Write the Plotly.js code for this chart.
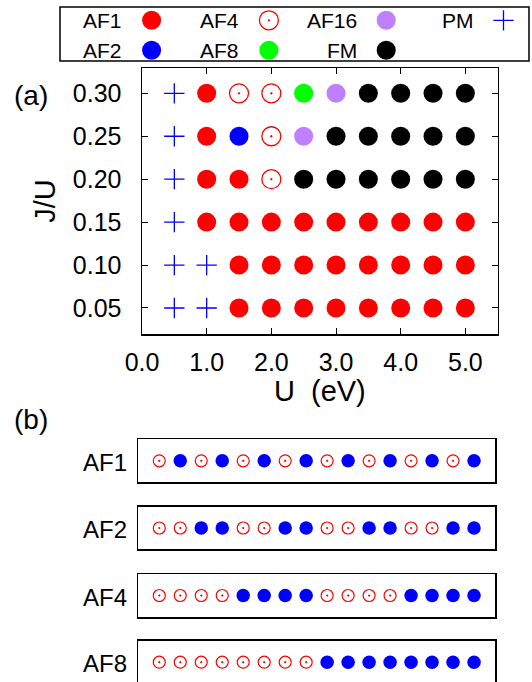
<!DOCTYPE html>
<html>
<head>
<meta charset="utf-8">
<script src="https://cdn.plot.ly/plotly-3.0.1.min.js"></script>
<style>
  html, body { margin: 0; padding: 0; background: #fff; }
  #chart { width: 532px; height: 682px; }
</style>
</head>
<body>
<div id="chart"></div>
<script>
// ---- Phase diagram (a): grid of U and J/U, with the magnetic phase at each point ----
const uValues = [0.5, 1.0, 1.5, 2.0, 2.5, 3.0, 3.5, 4.0, 4.5, 5.0];
const juValues = [0.30, 0.25, 0.20, 0.15, 0.10, 0.05];
const phaseRows = [
  ['PM', 'AF1', 'AF4', 'AF4', 'AF8', 'AF16', 'FM', 'FM', 'FM', 'FM'],
  ['PM', 'AF1', 'AF2', 'AF4', 'AF16', 'FM', 'FM', 'FM', 'FM', 'FM'],
  ['PM', 'AF1', 'AF1', 'AF4', 'FM', 'FM', 'FM', 'FM', 'FM', 'FM'],
  ['PM', 'AF1', 'AF1', 'AF1', 'AF1', 'AF1', 'AF1', 'AF1', 'AF1', 'AF1'],
  ['PM', 'PM', 'AF1', 'AF1', 'AF1', 'AF1', 'AF1', 'AF1', 'AF1', 'AF1'],
  ['PM', 'PM', 'AF1', 'AF1', 'AF1', 'AF1', 'AF1', 'AF1', 'AF1', 'AF1']
];
const xTickValues = [0, 1, 2, 3, 4, 5];
const yTickValues = [0.05, 0.10, 0.15, 0.20, 0.25, 0.30];

// Legend order (column by column, two rows each)
const legendPhases = ['AF1', 'AF2', 'AF4', 'AF8', 'AF16', 'FM', 'PM'];

// ---- Spin chains (b): 16 sites, 0 = up (open red), 1 = down (filled blue) ----
const chainLabels = ['AF1', 'AF2', 'AF4', 'AF8'];
const siteIndex = [1, 2, 3, 4, 5, 6, 7, 8, 9, 10, 11, 12, 13, 14, 15, 16];
const spinsAF1 = [0, 1, 0, 1, 0, 1, 0, 1, 0, 1, 0, 1, 0, 1, 0, 1];
const spinsAF2 = [0, 0, 1, 1, 0, 0, 1, 1, 0, 0, 1, 1, 0, 0, 1, 1];
const spinsAF4 = [0, 0, 0, 0, 1, 1, 1, 1, 0, 0, 0, 0, 1, 1, 1, 1];
const spinsAF8 = [0, 0, 0, 0, 0, 0, 0, 0, 1, 1, 1, 1, 1, 1, 1, 1];
const chainSpins = [spinsAF1, spinsAF2, spinsAF4, spinsAF8];

// ---- styles ----
const FONT = 'Liberation Sans, Arial, Helvetica, sans-serif';
const RED = '#ff0000', BLUE = '#0000ff';
const phaseStyle = {
  AF1:  { symbol: 'circle', size: 19, color: RED },
  AF2:  { symbol: 'circle', size: 19, color: BLUE },
  AF4:  { symbol: 'circle-open-dot', size: 19, color: RED, line: { color: RED, width: 1.3 } },
  AF8:  { symbol: 'circle', size: 19, color: '#00ff00' },
  AF16: { symbol: 'circle', size: 19, color: '#bf80ff' },
  FM:   { symbol: 'circle', size: 19, color: '#000000' },
  PM:   { symbol: 'cross-thin-open', size: 14.5, color: BLUE, line: { color: BLUE, width: 1.3 } }
};

const W = 532, H = 682;
const px = v => v / W;          // horizontal pixel -> paper
const py = v => 1 - v / H;      // vertical pixel -> paper

const traces = [];

// Phase-diagram markers, one trace per phase
legendPhases.forEach(ph => {
  const xs = [], ys = [];
  phaseRows.forEach((row, r) => row.forEach((p, c) => {
    if (p === ph) { xs.push(uValues[c]); ys.push(juValues[r]); }
  }));
  const st = phaseStyle[ph];
  traces.push({
    type: 'scatter', mode: 'markers', x: xs, y: ys, name: ph,
    xaxis: 'x', yaxis: 'y', cliponaxis: false, hoverinfo: 'skip',
    marker: { symbol: st.symbol, size: st.size, color: st.color, line: st.line || { width: 0 } }
  });
});

// Legend keys: drawn on their own axis spanning the legend frame (pixel-like units)
const LEG_X0 = 60, LEG_X1 = 529, LEG_Y0 = 7, LEG_Y1 = 61;
const legKeyX = c => 151.6 + 117.3 * c;
const legRowY = r => 20.3 + 29.9 * r;
const annotations = [];
legendPhases.forEach((ph, i) => {
  const c = Math.floor(i / 2), r = i % 2;
  const st = phaseStyle[ph];
  traces.push({
    type: 'scatter', mode: 'markers', x: [legKeyX(c)], y: [legRowY(r)],
    xaxis: 'x6', yaxis: 'y6', cliponaxis: false, hoverinfo: 'skip',
    marker: { symbol: st.symbol, size: st.size, color: st.color, line: st.line || { width: 0 } }
  });
  annotations.push({
    xref: 'x6', yref: 'y6', x: legKeyX(c) - 27.7, y: legRowY(r),
    xanchor: 'right', yanchor: 'middle', showarrow: false, text: ph,
    font: { family: FONT, size: 21, color: '#000' }
  });
});

// Spin chains
chainSpins.forEach((spins, k) => {
  const ax = k + 2;
  const upX = [], downX = [];
  spins.forEach((s, i) => (s === 0 ? upX : downX).push(siteIndex[i]));
  traces.push({
    type: 'scatter', mode: 'markers', x: upX, y: upX.map(() => 0),
    xaxis: 'x' + ax, yaxis: 'y' + ax, hoverinfo: 'skip', cliponaxis: false,
    marker: { symbol: 'circle-open-dot', size: 12, color: RED, line: { color: RED, width: 1.2 } }
  });
  traces.push({
    type: 'scatter', mode: 'markers', x: downX, y: downX.map(() => 0),
    xaxis: 'x' + ax, yaxis: 'y' + ax, hoverinfo: 'skip', cliponaxis: false,
    marker: { symbol: 'circle', size: 13.5, color: BLUE, line: { width: 0 } }
  });
});

// Strip frames (pixel rows); the last one runs past the bottom edge
const stripTop = [439.3, 506.7, 574.0, 640.7];
const stripBot = [482.3, 549.3, 617.0, 683.7];
const STRIP_X0 = 138.3, STRIP_X1 = 495;

const layout = {
  width: W, height: H,
  margin: { l: 0, r: 0, t: 0, b: 0, pad: 0 },
  paper_bgcolor: '#fff', plot_bgcolor: 'rgba(0,0,0,0)',
  showlegend: false,
  font: { family: FONT, color: '#000' },
  xaxis: {
    domain: [px(142), px(497.7)], range: [0, 5.5], anchor: 'y',
    tickvals: xTickValues, tickformat: '.1f',
    ticks: 'inside', ticklen: 6, tickwidth: 1, tickcolor: '#000',
    showline: true, linewidth: 1.5, linecolor: '#000', mirror: 'allticks',
    showgrid: false, zeroline: false,
    tickfont: { family: FONT, size: 25 }, ticklabelstandoff: 5,
    title: { text: 'U\u00a0\u00a0(eV)', font: { family: FONT, size: 29 }, standoff: 6 }
  },
  yaxis: {
    domain: [py(334), py(68)], range: [0.0197, 0.3295], anchor: 'x',
    tickvals: yTickValues, tickformat: '.2f',
    ticks: 'inside', ticklen: 6, tickwidth: 1, tickcolor: '#000',
    showline: true, linewidth: 1.5, linecolor: '#000', mirror: 'allticks',
    showgrid: false, zeroline: false,
    tickfont: { family: FONT, size: 25 }, ticklabelstandoff: 14,
    title: { text: 'J/U', font: { family: FONT, size: 29 }, standoff: 8 }
  },
  xaxis6: {
    domain: [px(LEG_X0), px(LEG_X1)], range: [LEG_X0, LEG_X1], anchor: 'y6',
    visible: false, fixedrange: true
  },
  yaxis6: {
    domain: [py(LEG_Y1), py(LEG_Y0)], range: [LEG_Y1, LEG_Y0], anchor: 'x6',
    visible: false, fixedrange: true
  },
  shapes: [{
    type: 'rect', xref: 'paper', yref: 'paper',
    x0: px(LEG_X0), x1: px(LEG_X1), y0: py(LEG_Y1), y1: py(LEG_Y0),
    line: { color: '#000', width: 1.5 }, fillcolor: 'rgba(0,0,0,0)'
  }],
  annotations: annotations.concat([
    { xref: 'paper', yref: 'paper', x: px(31), y: py(96), xanchor: 'center', yanchor: 'middle',
      showarrow: false, text: '(a)', font: { family: FONT, size: 28 } },
    { xref: 'paper', yref: 'paper', x: px(30.5), y: py(419), xanchor: 'center', yanchor: 'middle',
      showarrow: false, text: '(b)', font: { family: FONT, size: 28 } }
  ])
};

chainLabels.forEach((lab, k) => {
  const ax = k + 2;
  const last = k === chainLabels.length - 1;
  const top = stripTop[k];
  const bot = last ? H : stripBot[k];
  const unit = (stripBot[k] - stripTop[k]) / 2;          // pixels per y unit
  const yLow = 1 - (bot - top) / unit;
  layout['xaxis' + ax] = {
    domain: [px(STRIP_X0), px(STRIP_X1)], range: [0, 17], anchor: 'y' + ax,
    showticklabels: false, ticks: '', showgrid: false, zeroline: false,
    showline: true, linewidth: 1.5, linecolor: '#000',
    mirror: last ? false : true, side: last ? 'top' : 'bottom', fixedrange: true
  };
  layout['yaxis' + ax] = {
    domain: [py(bot), py(top)], range: [yLow, 1], anchor: 'x' + ax,
    showticklabels: false, ticks: '', showgrid: false, zeroline: false,
    showline: true, linewidth: 1.5, linecolor: '#000', mirror: true, fixedrange: true
  };
  layout.annotations.push({
    xref: 'paper', yref: 'paper', x: px(128.5), y: py((stripTop[k] + stripBot[k]) / 2 + 1.5),
    xanchor: 'right', yanchor: 'middle', showarrow: false, text: lab,
    font: { family: FONT, size: 24 }
  });
});

Plotly.newPlot('chart', traces, layout, { staticPlot: true, displayModeBar: false });
</script>
</body>
</html>
